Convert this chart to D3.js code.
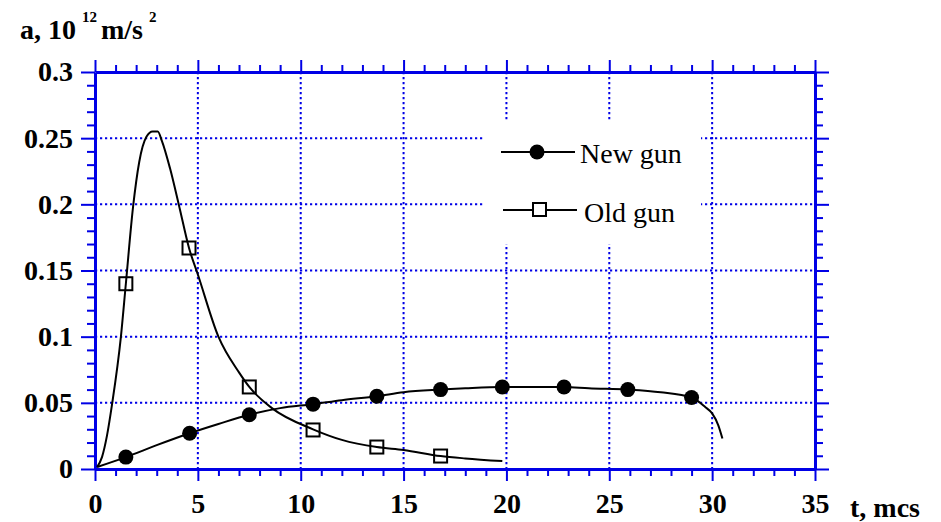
<!DOCTYPE html>
<html>
<head>
<meta charset="utf-8">
<script src="https://cdn.jsdelivr.net/npm/d3@7"></script>
</head>
<body style="margin:0">
<div id="chart"></div>
<script>
// values (t in mcs, a in 10^12 m/s^2)
var newGunCurve = [
    [0.1, 0.0015], [1.5, 0.009], [3, 0.018], [4.6, 0.027], [6, 0.034],
    [7.5, 0.041], [9, 0.046], [10.6, 0.049], [12, 0.052], [13.7, 0.055],
    [15, 0.058], [16.8, 0.060], [18, 0.061], [19.8, 0.062], [22.8, 0.062],
    [24, 0.061], [25.9, 0.060], [27.5, 0.058], [29, 0.054], [29.65, 0.047],
    [30, 0.042], [30.3, 0.033], [30.5, 0.023]
];
var newGunMarks = [
    [1.5, 0.009], [4.6, 0.027], [7.5, 0.041], [10.6, 0.049], [13.7, 0.055],
    [16.8, 0.060], [19.8, 0.062], [22.8, 0.062], [25.9, 0.060], [29, 0.054]
];
var oldGunCurve = [
    [0.1, 0.0015], [0.34, 0.009], [0.58, 0.025], [0.83, 0.049], [1.26, 0.1],
    [1.5, 0.14], [1.85, 0.198], [2.15, 0.232], [2.5, 0.251], [2.8, 0.255],
    [3.05, 0.255], [3.25, 0.248], [3.65, 0.227], [4.1, 0.198], [4.57, 0.167],
    [5, 0.147], [6, 0.1], [7, 0.073], [7.5, 0.062], [8.6, 0.046],
    [10.6, 0.030], [12, 0.022], [13.7, 0.0166], [15, 0.0144], [16.8, 0.0098],
    [18, 0.008], [19.8, 0.006]
];
var oldGunMarks = [
    [1.5, 0.140], [4.57, 0.167], [7.5, 0.062], [10.6, 0.0295],
    [13.7, 0.0166], [16.8, 0.0098]
];
var xTicks = [0, 5, 10, 15, 20, 25, 30, 35];
var yTicks = [0, 0.05, 0.1, 0.15, 0.2, 0.25, 0.3];
var seriesNames = ['New gun', 'Old gun'];

var width = 941,
    height = 522;
var blue = '#0000e6';
var font = '"Liberation Serif"';

var svg = d3.select('#chart')
    .append('svg')
    .attr('width', width)
    .attr('height', height);

var x = d3.scaleLinear().domain([0, 35]).range([95, 815]);
var y = d3.scaleLinear().domain([0, 0.3]).range([469, 72]);

var xMinor = d3.range(0, 36).filter(function (d) { return d % 5 !== 0; });
var yMinor = d3.range(0, 31).filter(function (d) { return d % 5 !== 0; })
    .map(function (d) { return d / 100; });

// dotted grid
var grid = svg.append('g')
    .attr('stroke', blue)
    .attr('stroke-width', 2)
    .attr('stroke-dasharray', '2.2,2.8');

grid.selectAll('.vgrid')
    .data(xTicks.slice(1, -1))
    .enter()
    .append('line')
    .attr('x1', function (d) { return x(d); })
    .attr('x2', function (d) { return x(d); })
    .attr('y1', y(0.3))
    .attr('y2', y(0));

grid.selectAll('.hgrid')
    .data(yTicks.slice(1, -1))
    .enter()
    .append('line')
    .attr('x1', x(0))
    .attr('x2', x(35))
    .attr('y1', function (d) { return y(d); })
    .attr('y2', function (d) { return y(d); });

// legend box hides the grid
svg.append('rect')
    .attr('x', 484)
    .attr('y', 122)
    .attr('width', 217)
    .attr('height', 122)
    .attr('fill', '#fff');

// axes
function styleAxis(g) {
    g.select('.domain').attr('stroke', blue).attr('stroke-width', 3);
    g.selectAll('.tick line').attr('stroke', blue).attr('stroke-width', 2);
    g.selectAll('.tick text')
        .attr('fill', '#000')
        .style('font-family', font)
        .style('font-weight', 'bold')
        .style('font-size', '28px');
}

function minor(g) {
    g.select('.domain').remove();
    g.selectAll('.tick line').attr('stroke', blue).attr('stroke-width', 2);
}

svg.append('g')
    .attr('transform', 'translate(0,' + y(0) + ')')
    .call(d3.axisBottom(x).tickValues(xTicks).tickSize(12).tickSizeOuter(0)
        .tickPadding(12).tickFormat(d3.format('d')))
    .call(styleAxis);
svg.append('g')
    .attr('transform', 'translate(0,' + y(0) + ')')
    .call(d3.axisBottom(x).tickValues(xMinor).tickSize(7).tickFormat(''))
    .call(minor);

svg.append('g')
    .attr('transform', 'translate(0,' + y(0.3) + ')')
    .call(d3.axisTop(x).tickValues(xTicks).tickSize(12).tickSizeOuter(0).tickFormat(''))
    .call(styleAxis);
svg.append('g')
    .attr('transform', 'translate(0,' + y(0.3) + ')')
    .call(d3.axisTop(x).tickValues(xMinor).tickSize(7).tickFormat(''))
    .call(minor);

svg.append('g')
    .attr('transform', 'translate(' + x(0) + ',0)')
    .call(d3.axisLeft(y).tickValues(yTicks).tickSize(14).tickSizeOuter(0)
        .tickPadding(8).tickFormat(d3.format('~g')))
    .call(styleAxis);
svg.append('g')
    .attr('transform', 'translate(' + x(0) + ',0)')
    .call(d3.axisLeft(y).tickValues(yMinor).tickSize(8).tickFormat(''))
    .call(minor);

svg.append('g')
    .attr('transform', 'translate(' + x(35) + ',0)')
    .call(d3.axisRight(y).tickValues(yTicks).tickSize(14).tickSizeOuter(0).tickFormat(''))
    .call(styleAxis);
svg.append('g')
    .attr('transform', 'translate(' + x(35) + ',0)')
    .call(d3.axisRight(y).tickValues(yMinor).tickSize(8).tickFormat(''))
    .call(minor);

// curves
var line = d3.line()
    .x(function (d) { return x(d[0]); })
    .y(function (d) { return y(d[1]); })
    .curve(d3.curveMonotoneX);

svg.append('path')
    .datum(oldGunCurve)
    .attr('d', line)
    .attr('fill', 'none')
    .attr('stroke', '#000')
    .attr('stroke-width', 2);

svg.append('path')
    .datum(newGunCurve)
    .attr('d', line)
    .attr('fill', 'none')
    .attr('stroke', '#000')
    .attr('stroke-width', 2);

svg.selectAll('.new-mark')
    .data(newGunMarks)
    .enter()
    .append('circle')
    .attr('class', 'new-mark')
    .attr('cx', function (d) { return x(d[0]); })
    .attr('cy', function (d) { return y(d[1]); })
    .attr('r', 7.5)
    .attr('fill', '#000');

svg.selectAll('.old-mark')
    .data(oldGunMarks)
    .enter()
    .append('rect')
    .attr('class', 'old-mark')
    .attr('x', function (d) { return x(d[0]) - 6.5; })
    .attr('y', function (d) { return y(d[1]) - 6.5; })
    .attr('width', 13)
    .attr('height', 13)
    .attr('fill', 'none')
    .attr('stroke', '#000')
    .attr('stroke-width', 2);

// legend
var legend = svg.append('g');
legend.append('line')
    .attr('x1', 501).attr('x2', 575).attr('y1', 152).attr('y2', 152)
    .attr('stroke', '#000').attr('stroke-width', 2);
legend.append('circle')
    .attr('cx', 537).attr('cy', 152).attr('r', 7.5).attr('fill', '#000');
legend.append('text')
    .attr('x', 580).attr('y', 163)
    .style('font-family', font)
    .style('font-size', '28px')
    .text(seriesNames[0]);

legend.append('line')
    .attr('x1', 503).attr('x2', 577).attr('y1', 210).attr('y2', 210)
    .attr('stroke', '#000').attr('stroke-width', 2);
legend.append('rect')
    .attr('x', 533).attr('y', 203).attr('width', 13).attr('height', 13)
    .attr('fill', '#fff').attr('stroke', '#000').attr('stroke-width', 2);
legend.append('text')
    .attr('x', 584).attr('y', 222)
    .style('font-family', font)
    .style('font-size', '28px')
    .text(seriesNames[1]);

// axis titles
var yTitle = svg.append('text')
    .attr('y', 39)
    .style('font-family', font)
    .style('font-weight', 'bold')
    .style('font-size', '28px');
yTitle.append('tspan').attr('x', 20).text('a, 10');
yTitle.append('tspan').attr('x', 82).attr('y', 22).style('font-size', '15px').text('12');
yTitle.append('tspan').attr('x', 101).attr('y', 39).text('m/s');
yTitle.append('tspan').attr('x', 149).attr('y', 22).style('font-size', '15px').text('2');

svg.append('text')
    .attr('x', 850)
    .attr('y', 517)
    .style('font-family', font)
    .style('font-weight', 'bold')
    .style('font-size', '28px')
    .text('t, mcs');
</script>
</body>
</html>
